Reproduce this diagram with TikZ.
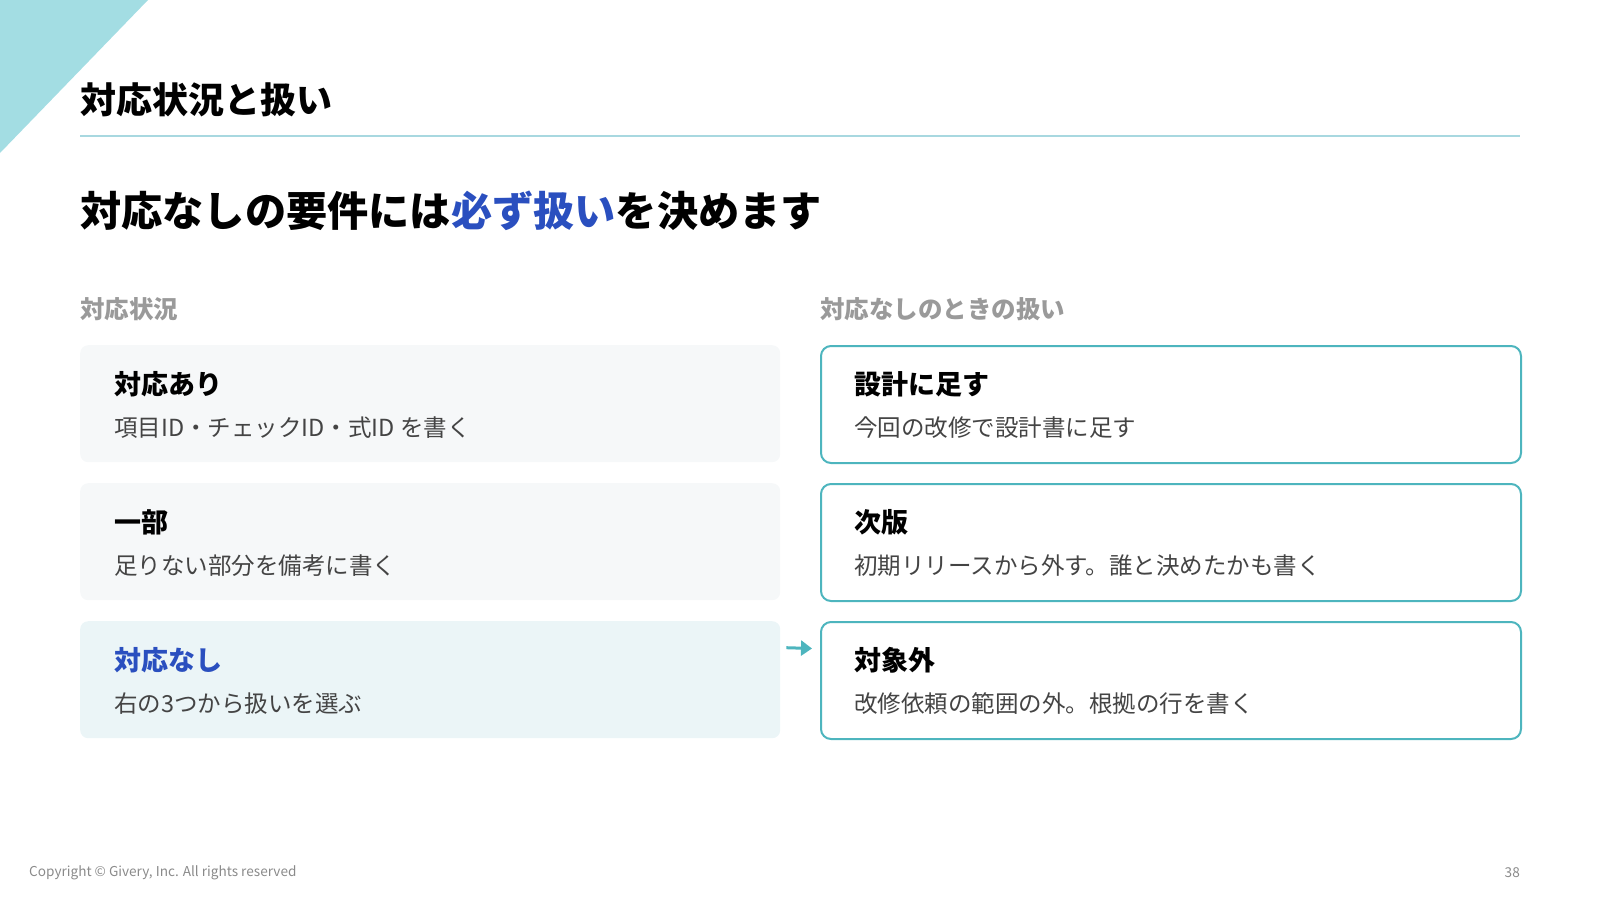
\documentclass[tikz,border=0pt]{standalone}
\usepackage{fontspec}
\setmainfont{Noto Sans CJK JP}
\usetikzlibrary{arrows.meta}
\definecolor{cornercyan}{HTML}{A3DDE3}
\definecolor{ruleline}{HTML}{A8D8E0}
\definecolor{accentblue}{HTML}{2A4FBF}
\definecolor{tealline}{HTML}{4DB5BE}
\definecolor{boxgray}{HTML}{F6F8F9}
\definecolor{boxcyan}{HTML}{EBF5F7}
\definecolor{subgray}{HTML}{444444}
\definecolor{labelgray}{HTML}{9A9A9A}
\definecolor{footgray}{HTML}{8A8A8A}
\tikzset{
  slabel/.style={anchor=west,inner sep=0pt,text=labelgray,font=\bfseries\fontsize{24.5pt}{26pt}\selectfont},
  leftbox/.style={anchor=north west,rounded corners=8pt,minimum width=700pt,minimum height=117pt,inner sep=0pt},
  rightbox/.style={leftbox,fill=white,draw=tealline,line width=2pt,rounded corners=10pt},
  btitle/.style={anchor=west,inner sep=0pt,font=\bfseries\fontsize{27pt}{29pt}\selectfont},
  bsub/.style={anchor=west,inner sep=0pt,text=subgray,font=\fontsize{23.5pt}{25pt}\selectfont},
  footer/.style={inner sep=0pt,text=footgray,font=\fontsize{13.6pt}{16pt}\selectfont}
}

\begin{document}
\begin{tikzpicture}[x=1pt,y=-1pt]
      \useasboundingbox (0,0) rectangle (1600,900);
      % corner and title
      \fill[cornercyan] (0,0) -- (148,0) -- (0,153) -- cycle;
      \node[anchor=west,inner sep=0pt,font=\bfseries\fontsize{36pt}{38pt}\selectfont] (title) at (80,100) {対応状況と扱い};
      \draw[ruleline,line width=2pt] (80,136) -- (1520,136);
      \node[anchor=west,inner sep=0pt,font=\bfseries\fontsize{41.2pt}{44pt}\selectfont] (head) at (80,211)
        {対応なしの要件には\textcolor{accentblue}{必ず扱い}を決めます};
      %% column labels
      \node[slabel] (lhead) at (80,309) {対応状況};
      \node[slabel] (rhead) at (820,309) {対応なしのときの扱い};
      %% left column
      \foreach \i/\y/\fc/\tc/\ttl/\sub in {1/345/boxgray/black/対応あり/項目ID・チェックID・式ID を書く,
                                        2/483/boxgray/black/一部/足りない部分を備考に書く,
                                        3/621/boxcyan/accentblue/対応なし/右の3つから扱いを選ぶ}
      {
        \node[leftbox,fill=\fc] (l\i) at (80,\y) {};
        \node[btitle,text=\tc] (l\i t) at ([xshift=34pt,yshift=-39pt]l\i.north west) {\ttl};
        \node[bsub] (l\i s) at ([xshift=34pt,yshift=-83pt]l\i.north west) {\sub};
      }
      %% right column
      \foreach \i/\y/\ttl/\sub in {1/345/設計に足す/今回の改修で設計書に足す,
                                  2/483/次版/初期リリースから外す。誰と決めたかも書く,
                                  3/621/対象外/改修依頼の範囲の外。根拠の行を書く}
      {
        \node[rightbox] (r\i) at (820,\y) {};
        \node[btitle] (r\i t) at ([xshift=34pt,yshift=-39pt]r\i.north west) {\ttl};
        \node[bsub] (r\i s) at ([xshift=34pt,yshift=-83pt]r\i.north west) {\sub};
      }
      \draw[tealline,line width=3pt,-{Triangle[length=11pt,width=15pt]}]
        ([xshift=6pt,yshift=32pt]l3.east) -- ([xshift=-8pt,yshift=32pt]r3.west);
      % footer
      \node[footer,anchor=west] (copy) at (29,873) {Copyright © Givery, Inc. All rights reserved};
      \node[footer,anchor=east] (page) at (1520,873) {38};
\end{tikzpicture}
\end{document}
